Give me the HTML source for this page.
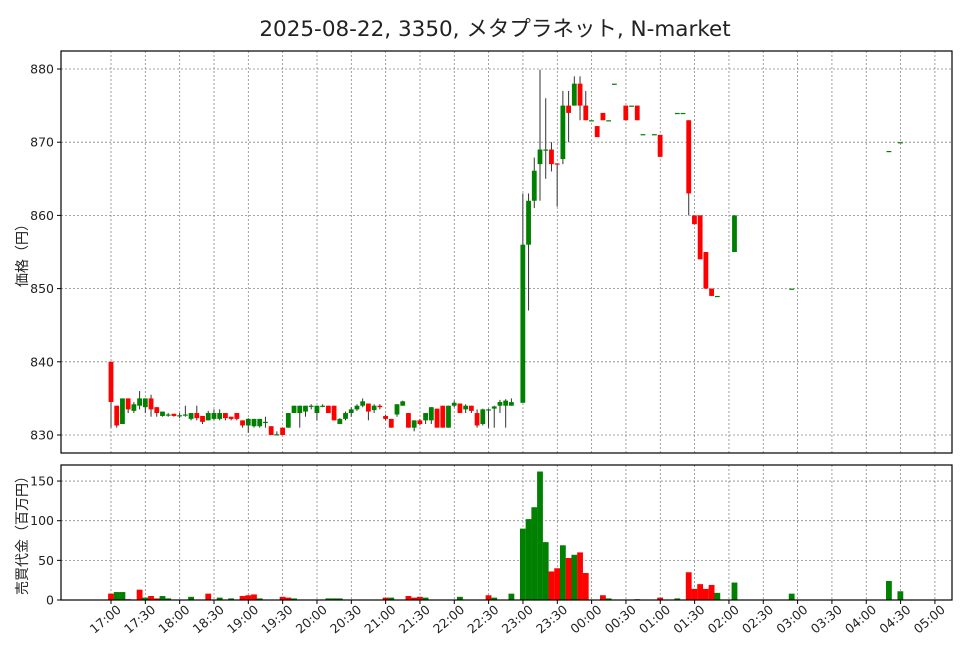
<!DOCTYPE html>
<html><head><meta charset="utf-8"><style>body{margin:0;background:#fff}svg{display:block}text{font-family:"DejaVu Sans","Liberation Sans","Noto Sans CJK JP",sans-serif;fill:#222}</style></head>
<body><svg id="s" width="973" height="646" xmlns="http://www.w3.org/2000/svg"></svg>
<script>
const s=document.getElementById('s');let h='';
const X=i=>111+i*5.72, PY=p=>435-(p-830)*7.32, VY=v=>600-v*0.793;
h+='<rect width="973" height="646" fill="#fff"/>';
h+='<text x="495" y="36" font-size="21.5" text-anchor="middle">2025-08-22, 3350, メタプラネット, N-market</text>';
const labs=['17:00','17:30','18:00','18:30','19:00','19:30','20:00','20:30','21:00','21:30','22:00','22:30','23:00','23:30','00:00','00:30','01:00','01:30','02:00','02:30','03:00','03:30','04:00','04:30','05:00'];
labs.forEach((l,k)=>{const x=111+k*34.33;
h+=`<line x1="${x}" y1="51" x2="${x}" y2="453" stroke="#888" stroke-dasharray="2,2" stroke-width="0.8"/>`;
h+=`<line x1="${x}" y1="465" x2="${x}" y2="600" stroke="#888" stroke-dasharray="2,2" stroke-width="0.8"/>`;
h+=`<line x1="${x}" y1="600" x2="${x}" y2="604" stroke="#000"/>`;
h+=`<text font-size="12.5" text-anchor="end" transform="translate(${x+11},611) rotate(-40)">${l}</text>`;});
for(let p=830;p<=880;p+=10){const y=PY(p);h+=`<line x1="61" y1="${y}" x2="952" y2="${y}" stroke="#888" stroke-dasharray="2,2" stroke-width="0.8"/><line x1="57" y1="${y}" x2="61" y2="${y}" stroke="#000"/><text x="54" y="${y+4.5}" font-size="12.5" text-anchor="end">${p}</text>`;}
for(let v=0;v<=150;v+=50){const y=VY(v);h+=`<line x1="61" y1="${y}" x2="952" y2="${y}" stroke="#888" stroke-dasharray="2,2" stroke-width="0.8"/><line x1="57" y1="${y}" x2="61" y2="${y}" stroke="#000"/><text x="54" y="${y+4.5}" font-size="12.5" text-anchor="end">${v}</text>`;}
h+='<text font-size="14" text-anchor="middle" transform="translate(27,252) rotate(-90)">価格（円）</text>';
h+='<text font-size="14" text-anchor="middle" transform="translate(27,532) rotate(-90)">売買代金（百万円）</text>';
const C=[[0,840,834.5,840,831],[1,834,831.3,834,831],[2,831.5,835,835,831.5],[3,835,833.5,835,833],[4,833.3,834.2,834.5,833],[5,834,835,836,833.5],[6,833.8,835,835,833],[7,835,833.5,835.5,832.5],[8,833.8,833,833.8,832.5],[9,832.6,833.2,833.2,832.5],[10,832.8,832.8,833,832.5],[11,832.9,832.6,832.9,832.5],[12,832.7,832.7,833,832.3],[13,832.8,832.8,834,832.5],[14,832.2,833,833,832],[15,833,832.3,834,832],[16,832.6,831.8,832.6,831.5],[17,832,833,833.3,832],[18,832.2,833,833.5,832],[19,832.2,833,833.5,832],[20,833,832.3,833,832],[21,832.5,832.2,832.5,832],[22,833,832.2,833,832],[23,832,831.3,832,831],[24,831.3,832.2,832.3,830.3],[25,831.2,832.2,832.2,831],[26,831.2,832.2,832.2,831],[27,831.8,831.8,832.5,831],[28,831.2,830,831.2,830],[29,830.1,830.1,830.5,830],[30,831,830,831,830],[31,831,833,833,831],[32,833,834,834,833],[33,833,834,834,831],[34,833.2,834,834,832.5],[35,834,834,834.2,833.5],[36,833,834,834,832],[37,834,834,834.2,833.8],[38,834,833,834,833],[39,834,832,834,832],[40,831.5,832.2,832.3,831.5],[41,832.2,833,833.2,832],[42,833,833.5,833.8,832.5],[43,833.5,834,834.2,833.3],[44,834,834.6,835,833.8],[45,834.3,833.2,834.3,832],[46,833.4,834,834.2,833],[47,834,833.8,834.2,833.5],[48,832.6,832.2,832.8,832],[49,832.2,831,832.2,831],[50,832.8,834.2,834.2,832.5],[51,834,834.6,834.7,834],[52,833,831,833,831],[53,831,832,832,830.5],[54,832,831.5,832.2,831.3],[55,832,833,833,831.5],[56,832,833.8,833.8,831.5],[57,833.6,831,833.6,831],[58,834,831,834,831],[59,831,834,834,831],[60,834,834.4,834.7,833.8],[61,834.3,833,834.3,833],[62,833.5,834,834.2,833],[63,834,833.3,834,833],[64,833,831.3,833.5,831],[65,831.5,833.5,833.6,831.3],[66,833.5,833.5,833.6,831],[67,833.6,833.9,834,831],[68,834,834.5,834.8,833],[69,834,834.7,834.9,831],[70,834,834.5,835,834],[72,834.4,856,863,834.4],[73,856,862,863,847],[74,862,866.1,867.9,861],[75,867,869,879.9,862],[76,869,869,876,865],[77,869,867,870,866],[78,867.1,867,867.1,861.2],[79,867.7,875,877,867],[80,875,874,877,870],[81,875,878,879,875],[82,878,875,879,873],[83,875,873,877,873],[84,873,873,873,873],[85,872.2,870.7,872.2,870.7],[86,874,873,874,873],[87,873,873,873,873],[88,878,878,878,878],[90,875,873,875,873],[91,875,875,875,875],[92,875,873,875,873],[93,871.1,871.1,871.1,871.1],[95,871.1,871.1,871.1,871.1],[96,871,868,871,868],[99,874,874,874,874],[100,874,874,874,874],[101,873,863,873,860],[102,860,858.8,860,858.8],[103,860,854,860,854],[104,855,850,855,850],[105,850,849,850,849],[106,849,849,849,849],[109,855,860,860,855],[119,850,850,850,850],[136,868.8,868.8,868.8,868.8],[138,870,870,870,870]];
C.forEach(([i,o,c,hh,l])=>{const x=X(i);const col=c<o?'#ff0000':'#008000';
h+=`<line x1="${x}" y1="${PY(hh)}" x2="${x}" y2="${PY(l)}" stroke="#333" stroke-width="1"/>`;
const t=PY(Math.max(o,c)),b=PY(Math.min(o,c));h+=`<rect x="${x-2.4}" y="${t}" width="4.8" height="${Math.max(b-t,1.2)}" fill="${col}"/>`;});
const V=[[0,8,'r'],[1,10,'g'],[2,10,'g'],[3,1,'r'],[5,13,'r'],[6,3,'g'],[7,5,'r'],[8,2,'r'],[9,5,'g'],[10,2,'g'],[14,4,'g'],[17,8,'r'],[19,3,'g'],[21,2,'g'],[23,5,'r'],[24,6,'r'],[25,7,'r'],[26,2,'g'],[30,4,'r'],[31,3,'r'],[32,2,'g'],[38,2,'g'],[39,2,'g'],[40,2,'g'],[49,3,'g'],[48,3,'r'],[52,5,'r'],[53,3,'r'],[54,4,'r'],[55,3,'g'],[61,4,'g'],[66,6,'r'],[67,3,'g'],[70,8,'g'],[72,90,'g'],[73,102,'g'],[74,117,'g'],[75,162,'g'],[76,73,'g'],[77,36,'r'],[78,40,'r'],[79,69,'g'],[80,53,'r'],[81,57,'g'],[82,60,'r'],[83,34,'r'],[86,6,'r'],[87,2,'g'],[92,1,'g'],[96,3,'r'],[99,2,'g'],[101,35,'r'],[102,14,'r'],[103,20,'r'],[104,14,'r'],[105,19,'r'],[106,9,'g'],[109,22,'g'],[119,8,'g'],[136,24,'g'],[138,11,'g']];
V.forEach(([i,v,c])=>{const x=X(i);h+=`<rect x="${x-2.9}" y="${VY(v)}" width="5.8" height="${v*0.793}" fill="${c=='r'?'#ff0000':'#008000'}"/>`;});
h+='<rect x="61" y="51" width="891" height="402" fill="none" stroke="#000" stroke-width="1.2"/>';
h+='<rect x="61" y="465" width="891" height="135" fill="none" stroke="#000" stroke-width="1.2"/>';
s.innerHTML=h;
</script></body></html>
